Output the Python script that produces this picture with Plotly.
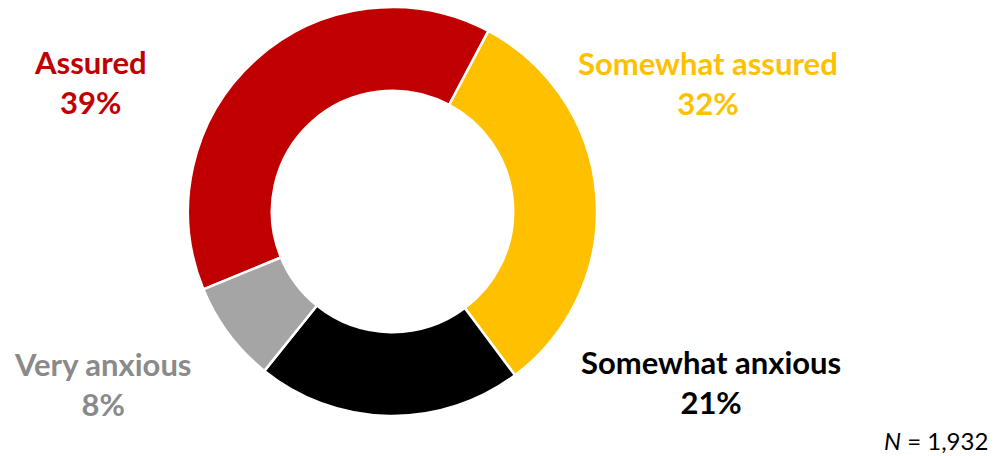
import plotly.graph_objects as go

# Survey responses (share of respondents, %)
categories = ["Assured", "Somewhat assured", "Somewhat anxious", "Very anxious"]
shares = [39, 32, 21, 8]
slice_colors = ["#C00000", "#FFC000", "#000000", "#A5A5A5"]
label_colors = ["#C00000", "#FFC000", "#000000", "#8A8A8A"]
sample_note = "<i>N</i> = 1,932"

W, H = 999, 456
FONT = "Lato, 'Open Sans', sans-serif"

# donut geometry in pixels
cx, cy, r = 392.5, 211.5, 204.5

fig = go.Figure(
    go.Pie(
        labels=categories,
        values=shares,
        sort=False,
        direction="clockwise",
        rotation=247.6,
        hole=0.59,
        marker=dict(colors=slice_colors, line=dict(color="#FFFFFF", width=2.5)),
        textinfo="none",
        hoverinfo="label+percent",
        showlegend=False,
        domain=dict(
            x=[(cx - r) / W, (cx + r) / W],
            y=[(H - cy - r) / H, (H - cy + r) / H],
        ),
    )
)

# label anchor points (pixel centre of each two-line label block)
label_pos = {
    "Assured": (90, 82),
    "Somewhat assured": (708, 83),
    "Somewhat anxious": (711, 382),
    "Very anxious": (102, 384),
}

annotations = []
for cat, val, col in zip(categories, shares, label_colors):
    px, py = label_pos[cat]
    annotations.append(
        dict(
            x=px / W,
            y=1 - py / H,
            xref="paper",
            yref="paper",
            xanchor="center",
            yanchor="middle",
            align="center",
            showarrow=False,
            text=f"<b>{cat}<br>{val}%</b>",
            font=dict(family=FONT, size=31, color=col),
        )
    )

annotations.append(
    dict(
        x=990 / W,
        y=1 - 440 / H,
        xref="paper",
        yref="paper",
        xanchor="right",
        yanchor="middle",
        showarrow=False,
        text=sample_note,
        font=dict(family=FONT, size=24, color="#000000"),
    )
)

fig.update_layout(
    width=W,
    height=H,
    margin=dict(l=0, r=0, t=0, b=0),
    paper_bgcolor="#FFFFFF",
    plot_bgcolor="#FFFFFF",
    annotations=annotations,
)

fig.write_html("out.html")
